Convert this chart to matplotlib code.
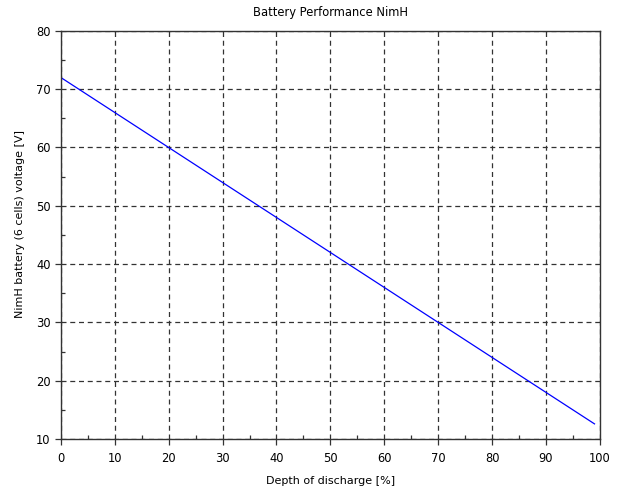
import numpy as np
import matplotlib.pyplot as plt
from matplotlib.ticker import MultipleLocator

# depth of discharge [%] and voltage [V]
dod = [0, 99]
voltage = [72.0, 12.6]

x_ticks = np.arange(0, 101, 10)
y_ticks = np.arange(10, 81, 10)

fig = plt.figure(figsize=(6.21, 4.9), dpi=100)
ax = fig.add_axes([0.098, 0.104, 0.868, 0.833])

ax.plot(dod, voltage, color='#0000ff', linewidth=0.9)

ax.set_xlim(0, 100)
ax.set_ylim(10, 80)
ax.set_xticks(x_ticks)
ax.set_yticks(y_ticks)
ax.xaxis.set_minor_locator(MultipleLocator(5))
ax.yaxis.set_minor_locator(MultipleLocator(5))
ax.tick_params(which='major', direction='out', length=4, width=0.9,
               labelsize=8.3, colors='#333333', labelcolor='black')
ax.tick_params(axis='x', which='major', pad=5)
ax.tick_params(which='minor', direction='in', length=3, width=0.9,
               colors='#333333')

ax.grid(True, which='major', linestyle=(0, (4, 3)), color='#333333',
        linewidth=0.9)
for s in ax.spines.values():
    s.set_color('#333333')
    s.set_linewidth(1.0)

ax.set_title("Battery Performance NimH", fontsize=8.3, pad=11)
ax.set_xlabel("Depth of discharge [%]", fontsize=8, labelpad=8)
ax.set_ylabel("NimH battery (6 cells) voltage [V]", fontsize=8)
ax.yaxis.set_label_coords(-0.067, 0.527)

fig.savefig("out.png", dpi=100)
